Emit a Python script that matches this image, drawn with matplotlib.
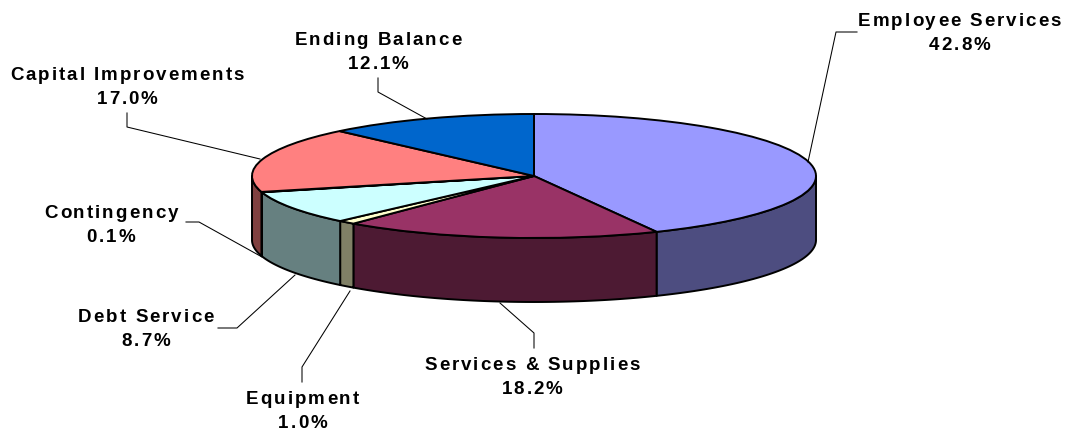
import numpy as np
import matplotlib
matplotlib.use("Agg")
import matplotlib.pyplot as plt
from matplotlib import font_manager
from matplotlib.ft2font import LoadFlags
from matplotlib.text import Text
from matplotlib.transforms import Bbox

names = ['Employee Services', 'Services & Supplies', 'Equipment', 'Debt Service',
         'Contingency', 'Capital Improvements', 'Ending Balance']
values = [42.8, 18.2, 1.0, 8.7, 0.1, 17.0, 12.1]
top_colors = ['#9999FF', '#993366', '#FFFFCC', '#CCFFFF', '#FFFFCC', '#FF8080', '#0066CC']
side_colors = ['#4D4D80', '#4D1A33', '#808066', '#668080', '#808066', '#804040', '#003366']

# pixel layout of the ellipse
cx, cy, rx, ry, depth = 534, 176, 282, 62, 64
W, H = 1068, 433

# label centres and leader lines, in pixels
label_pos = [(959.5, 31.5), (532, 376), (302.5, 409), (146, 328), (111, 223), (127, 85), (378, 50.5)]
leaders = [
    [(857, 32), (836, 32), (808, 162)],
    [(534, 348), (534, 333), (500, 303)],
    [(302, 382), (302, 367), (350, 291)],
    [(218, 328), (237, 328), (295, 275)],
    [(186, 222), (199, 222), (262, 257)],
    [(127, 113), (127, 127), (260, 159)],
    [(378, 78), (378, 92), (427, 119)],
]


def px(x, y):
    return (x - cx) / rx, (cy - y) / ry


class SpacedText(Text):
    """Centred two line label with extra pixels between the letters (matplotlib has no tracking)."""
    tracking = 2.0
    step = 24
    cap = 13

    def _glyphs(self, renderer):
        fp = self.get_fontproperties()
        font = font_manager.get_font(font_manager.findfont(fp))
        font.set_size(fp.get_size_in_points(), renderer.dpi)
        x0, y0 = self.get_transform().transform(self.get_position())
        lines = self.get_text().split('\n')
        out = []
        for n, line in enumerate(lines):
            adv = [font.load_char(ord(c), flags=LoadFlags.NO_HINTING).linearHoriAdvance / 65536 for c in line]
            width = sum(adv) + self.tracking * (len(line) - 1)
            x = x0 - width / 2
            y = y0 + self.step * ((len(lines) - 1) / 2 - n) - self.cap / 2
            for c, a in zip(line, adv):
                out.append((x, y, c, a))
                x += a + self.tracking
        return out

    def draw(self, renderer):
        gc = renderer.new_gc()
        gc.set_foreground(self.get_color())
        gc.set_antialiased(True)
        fp = self.get_fontproperties()
        for x, y, c, a in self._glyphs(renderer):
            if c != ' ':
                renderer.draw_text(gc, x, renderer.height - y, c, fp, 0, False)
        gc.restore()

    def get_window_extent(self, renderer=None, dpi=None):
        if renderer is None:
            renderer = self.get_figure().canvas.get_renderer()
        g = self._glyphs(renderer)
        return Bbox.from_extents(min(p[0] for p in g), min(p[1] for p in g) - 4,
                                 max(p[0] + p[3] for p in g), max(p[1] for p in g) + self.cap)


fig = plt.figure(figsize=(W / 100, H / 100), dpi=100)
ax = fig.add_axes([0, 0, 1, 1])

# side wall, only the front half of the ellipse shows
h = depth / ry
edges = np.concatenate([[0], np.cumsum(values)]) / sum(values) * 360
for i in range(len(values)):
    a = max(edges[i], 90)
    b = min(edges[i + 1], 270)
    if b <= a:
        continue
    t = np.radians(np.linspace(a, b, 80))
    xs = np.sin(t)
    ys = np.cos(t)
    ax.fill(np.r_[xs, xs[::-1]], np.r_[ys, ys[::-1] - h], fc=side_colors[i], ec='black', lw=1.4,
            joinstyle='round', zorder=1)

# top face
wedges, _ = ax.pie(values, colors=top_colors, startangle=90, counterclock=False, radius=1,
                   center=(0, 0), wedgeprops={'edgecolor': 'black', 'linewidth': 1.4})
for w in wedges:
    w.set_zorder(2)

ax.set_aspect('auto')
ax.set_xlim(px(0, 0)[0], px(W, 0)[0])
ax.set_ylim(px(0, H)[1], px(0, 0)[1])
ax.axis('off')

for line in leaders:
    pts = [px(x, y) for x, y in line]
    ax.plot([p[0] for p in pts], [p[1] for p in pts], color='black', lw=0.75, zorder=3)

for name, val, pos in zip(names, values, label_pos):
    x, y = px(*pos)
    label = SpacedText(x, y, f'{name}\n{val:.1f}%', ha='center', va='center', family='Liberation Sans',
                       weight='bold', fontsize=13.5, color='black', zorder=4)
    ax._add_text(label)

fig.savefig('out.png', dpi=100)
